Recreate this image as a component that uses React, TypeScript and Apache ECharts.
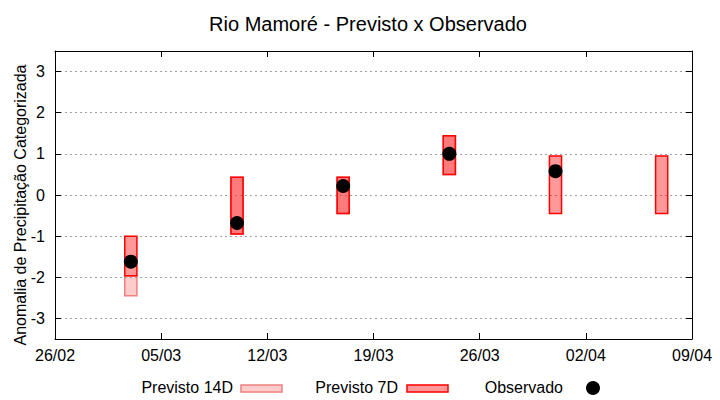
import React, { useEffect, useRef } from "react";
import * as echarts from "echarts";

const YEAR = 2018;
const START_DATE = "26/02";
const xTickLabels = ["26/02", "05/03", "12/03", "19/03", "26/03", "02/04", "09/04"];
const forecastDates = ["03/03", "10/03", "17/03", "24/03", "31/03", "07/04"];
const prev7Low = [-1.96, -0.95, -0.45, 0.5, -0.45, -0.45];
const prev7High = [-1.0, 0.43, 0.43, 1.44, 0.95, 0.95];
const prev14Low: (number | null)[] = [-2.45, -0.95, -0.45, 0.5, null, null];
const prev14High: (number | null)[] = [-1.96, 0.43, 0.43, 1.44, null, null];
const observed: (number | null)[] = [-1.62, -0.68, 0.22, 1.0, 0.58, null];

const FONT = "Liberation Sans";
const BOX_W = 0.8;

function dayOffset(s: string): number {
  const [d, m] = s.split("/").map(Number);
  const [d0, m0] = START_DATE.split("/").map(Number);
  return (Date.UTC(YEAR, m - 1, d) - Date.UTC(YEAR, m0 - 1, d0)) / 86400000;
}

const boxRender = (fill: string, stroke: string) => (params: any, api: any) => {
  const x = api.value(0);
  const lo = api.value(1);
  const hi = api.value(2);
  const p1 = api.coord([x, hi]);
  const p2 = api.coord([x, lo]);
  const w = api.size([BOX_W, 0])[0];
  return {
    type: "rect",
    shape: { x: p1[0] - w / 2, y: p1[1], width: w, height: p2[1] - p1[1] },
    style: { fill, stroke, lineWidth: 1.5 },
  };
};

export default function App() {
  const ref = useRef<HTMLDivElement>(null);
  useEffect(() => {
    document.body.style.margin = "0";
    if (!ref.current) return;
    const chart = echarts.init(ref.current, null, { renderer: "svg" });

    const d14: any[] = [];
    const d7: any[] = [];
    const dObs: any[] = [];
    forecastDates.forEach((s, i) => {
      const x = dayOffset(s);
      if (prev14Low[i] != null && prev14High[i] != null) d14.push([x, prev14Low[i], prev14High[i]]);
      d7.push([x, prev7Low[i], prev7High[i]]);
      if (observed[i] != null) dObs.push([x, observed[i]]);
    });
    const xMax = dayOffset(xTickLabels[xTickLabels.length - 1]);

    const axisLine = { show: true, onZero: false, lineStyle: { color: "#000", width: 1 } };
    const tick = { show: true, inside: true, length: 6, lineStyle: { color: "#000" } };
    chart.setOption({
      animation: false,
      title: {
        text: "Rio Mamoré - Previsto x Observado",
        left: 363,
        textAlign: "center",
        top: 9,
        textStyle: { fontFamily: FONT, fontSize: 20, fontWeight: "normal", color: "#000" },
      },
      grid: { left: 55, right: 28, top: 51, bottom: 61, containLabel: false },
      xAxis: [
        {
          type: "value",
          min: 0,
          max: xMax,
          interval: 7,
          position: "bottom",
          z: 3,
          axisLine,
          axisTick: tick,
          axisLabel: {
            color: "#000",
            fontFamily: FONT,
            fontSize: 16,
            margin: 8,
            formatter: (v: number) => xTickLabels[Math.round(v / 7)] ?? "",
          },
          splitLine: { show: false },
        },
        {
          type: "value",
          min: 0,
          max: xMax,
          interval: 7,
          position: "top",
          z: 3,
          axisLine,
          axisTick: tick,
          axisLabel: { show: false },
          splitLine: { show: false },
        },
      ],
      yAxis: [
        {
          type: "value",
          min: -3.5,
          max: 3.5,
          splitNumber: 7,
          minInterval: 1,
          maxInterval: 1,
          position: "left",
          z: 3,
          axisLine,
          axisTick: tick,
          axisLabel: {
            color: "#000",
            fontFamily: FONT,
            fontSize: 16,
            margin: 10,
            showMinLabel: false,
            showMaxLabel: false,
          },
          splitLine: { show: true, lineStyle: { color: "#a0a0a0", type: [2, 3], width: 1 } },
        },
        {
          type: "value",
          min: -3.5,
          max: 3.5,
          splitNumber: 7,
          minInterval: 1,
          maxInterval: 1,
          position: "right",
          z: 3,
          axisLine,
          axisTick: tick,
          axisLabel: { show: false },
          splitLine: { show: false },
        },
      ],
      series: [
        {
          name: "Previsto 14D",
          type: "custom",
          renderItem: boxRender("#ffcccc", "#f08080"),
          encode: { x: 0, y: [1, 2] },
          data: d14,
          z: 2,
        },
        {
          name: "Previsto 7D",
          type: "custom",
          renderItem: boxRender("rgba(255,0,0,0.4)", "#ff0000"),
          encode: { x: 0, y: [1, 2] },
          data: d7,
          z: 3,
        },
        {
          name: "Observado",
          type: "scatter",
          symbol: "circle",
          symbolSize: 14,
          itemStyle: { color: "#000", opacity: 1 },
          data: dObs,
          z: 4,
        },
      ],
      graphic: [
        {
          type: "text",
          x: 20,
          y: 205,
          rotation: Math.PI / 2,
          style: {
            text: "Anomalia de Precipitação Categorizada",
            fontFamily: FONT,
            fontSize: 16,
            fill: "#000",
            align: "center",
            verticalAlign: "middle",
          },
        },
        {
          type: "text",
          x: 233,
          y: 387,
          style: { text: "Previsto 14D", fontFamily: FONT, fontSize: 16, fill: "#000", align: "right", verticalAlign: "middle" },
        },
        {
          type: "rect",
          shape: { x: 241, y: 385, width: 41, height: 7 },
          style: { fill: "#ffcccc", stroke: "#f08080", lineWidth: 1.5 },
        },
        {
          type: "text",
          x: 398,
          y: 387,
          style: { text: "Previsto 7D", fontFamily: FONT, fontSize: 16, fill: "#000", align: "right", verticalAlign: "middle" },
        },
        {
          type: "rect",
          shape: { x: 407, y: 385, width: 41, height: 7 },
          style: { fill: "rgba(255,0,0,0.4)", stroke: "#ff0000", lineWidth: 1.5 },
        },
        {
          type: "text",
          x: 563,
          y: 387,
          style: { text: "Observado", fontFamily: FONT, fontSize: 16, fill: "#000", align: "right", verticalAlign: "middle" },
        },
        {
          type: "circle",
          shape: { cx: 593, cy: 388, r: 7 },
          style: { fill: "#000" },
        },
      ],
    });
    return () => chart.dispose();
  }, []);
  return <div ref={ref} style={{ width: 720, height: 400 }} />;
}
